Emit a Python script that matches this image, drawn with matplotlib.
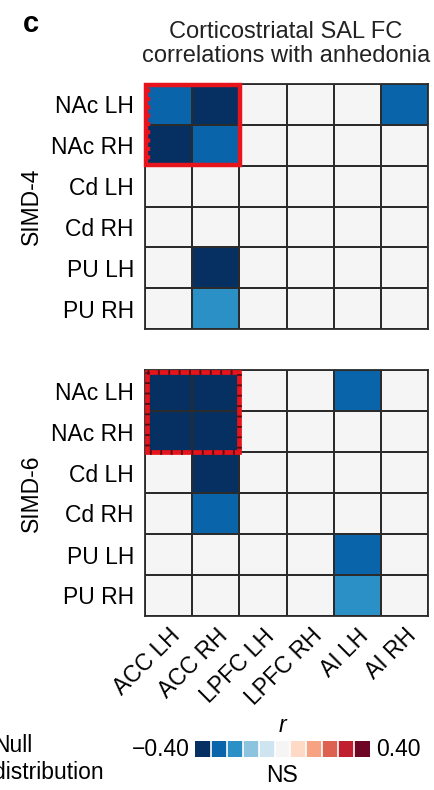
import numpy as np
import matplotlib
matplotlib.use('Agg')
import matplotlib.pyplot as plt
from matplotlib.colors import ListedColormap, BoundaryNorm
from matplotlib.patches import Rectangle
import matplotlib.cm as cm

plt.rcParams['font.family'] = ['Liberation Sans', 'DejaVu Sans']

cortex = ['ACC LH', 'ACC RH', 'LPFC LH', 'LPFC RH', 'AI LH', 'AI RH']
striatum = ['NAc LH', 'NAc RH', 'Cd LH', 'Cd RH', 'PU LH', 'PU RH']

# r values (0 = not significant)
simd4 = [[-0.30, -0.38, 0, 0, 0, -0.30],
         [-0.38, -0.30, 0, 0, 0, 0],
         [0, 0, 0, 0, 0, 0],
         [0, 0, 0, 0, 0, 0],
         [0, -0.38, 0, 0, 0, 0],
         [0, -0.24, 0, 0, 0, 0]]
simd6 = [[-0.38, -0.38, 0, 0, -0.30, 0],
         [-0.38, -0.38, 0, 0, 0, 0],
         [0, -0.38, 0, 0, 0, 0],
         [0, -0.30, 0, 0, 0, 0],
         [0, 0, 0, 0, -0.30, 0],
         [0, 0, 0, 0, -0.24, 0]]

cbar_colors = ['#053061', '#0a64aa', '#2a90c6', '#8cc3df', '#cfe4f1', '#f5f5f5',
               '#fdd9c6', '#f6a283', '#dc6151', '#c11f30', '#6d0524']
rmax = 0.40

cmap = ListedColormap(cbar_colors)
norm = BoundaryNorm(np.linspace(-rmax, rmax, len(cbar_colors) + 1), cmap.N)

W, H = 435, 790
fig = plt.figure(figsize=(W / 100, H / 100), dpi=100)

fs = 16.5


def heat(rect, data, label, box_style):
    ax = fig.add_axes(rect)
    ax.pcolormesh(np.array(data), cmap=cmap, norm=norm,
                  edgecolors='#2b2b2b', linewidth=1.3)
    ax.set_xlim(0, 6)
    ax.set_ylim(6, 0)
    ax.set_yticks(np.arange(6) + 0.5)
    ax.set_yticklabels(striatum, fontsize=fs)
    ax.set_xticks(np.arange(6) + 0.5)
    ax.tick_params(length=0, pad=8)
    for s in ax.spines.values():
        s.set_linewidth(1.3)
        s.set_color('#2b2b2b')
    ax.set_ylabel(label, fontsize=fs, labelpad=6)
    # highlight NAc x ACC block
    if box_style == 'solid':
        ax.add_patch(Rectangle((0.02, 0.02), 2, 1.96, fill=False, ec='#e8141c',
                               lw=3.2, clip_on=False, zorder=5))
        ax.plot([0.06, 0.06], [0.1, 1.9], color='#e8141c', lw=2.5,
                ls=(0, (1.2, 1.2)), zorder=6, clip_on=False)
    else:
        ax.add_patch(Rectangle((0.04, 0.04), 1.96, 1.96, fill=False, ec='#e8141c',
                               lw=3.4, clip_on=False, zorder=5))
        ax.add_patch(Rectangle((0.04, 0.04), 1.96, 1.96, fill=False, ec='#5a0a10',
                               lw=3.4, ls=(0, (0.4, 1.8)), clip_on=False, zorder=6))
    return ax


ax1 = heat([145 / W, 1 - 329 / H, 283 / W, 245 / H], simd4, 'SIMD-4', 'solid')
ax1.set_xticklabels([])
ax2 = heat([145 / W, 1 - 616 / H, 283 / W, 246 / H], simd6, 'SIMD-6', 'dotted')
ax2.set_xticklabels(cortex, fontsize=fs, rotation=45, ha='right',
                    rotation_mode='anchor')
ax2.tick_params(axis='x', pad=6)

fig.text(286 / W, 1 - 44 / H, 'Corticostriatal SAL FC\ncorrelations with anhedonia',
         ha='center', va='center', fontsize=fs + 0.5, linespacing=1.15,
         color='#222222')
fig.text(23 / W, 1 - 24 / H, 'c', fontsize=21, weight='bold', va='center')

cax = fig.add_axes([195 / W, 1 - 757 / H, 175 / W, 16 / H])
cb = fig.colorbar(cm.ScalarMappable(norm=norm, cmap=cmap), cax=cax,
                  orientation='horizontal', drawedges=True)
cb.outline.set_visible(False)
cb.dividers.set_color('white')
cb.dividers.set_linewidth(1.2)
cax.set_xticks([])
cax.minorticks_off()
cax.tick_params(which='both', length=0)
fig.text(190 / W, 1 - 749 / H, '\u22120.40', ha='right', va='center', fontsize=fs)
fig.text(376 / W, 1 - 749 / H, '0.40', ha='left', va='center', fontsize=fs)
fig.text(282 / W, 1 - 726 / H, 'r', ha='center', va='center', fontsize=fs,
         style='italic')
fig.text(282 / W, 1 - 776 / H, 'NS', ha='center', va='center', fontsize=fs)
fig.text(-7 / W, 1 - 759 / H, 'Null\ndistribution', ha='left', va='center',
         fontsize=fs, linespacing=1.2)

fig.savefig('out.png', dpi=100, facecolor='white')
